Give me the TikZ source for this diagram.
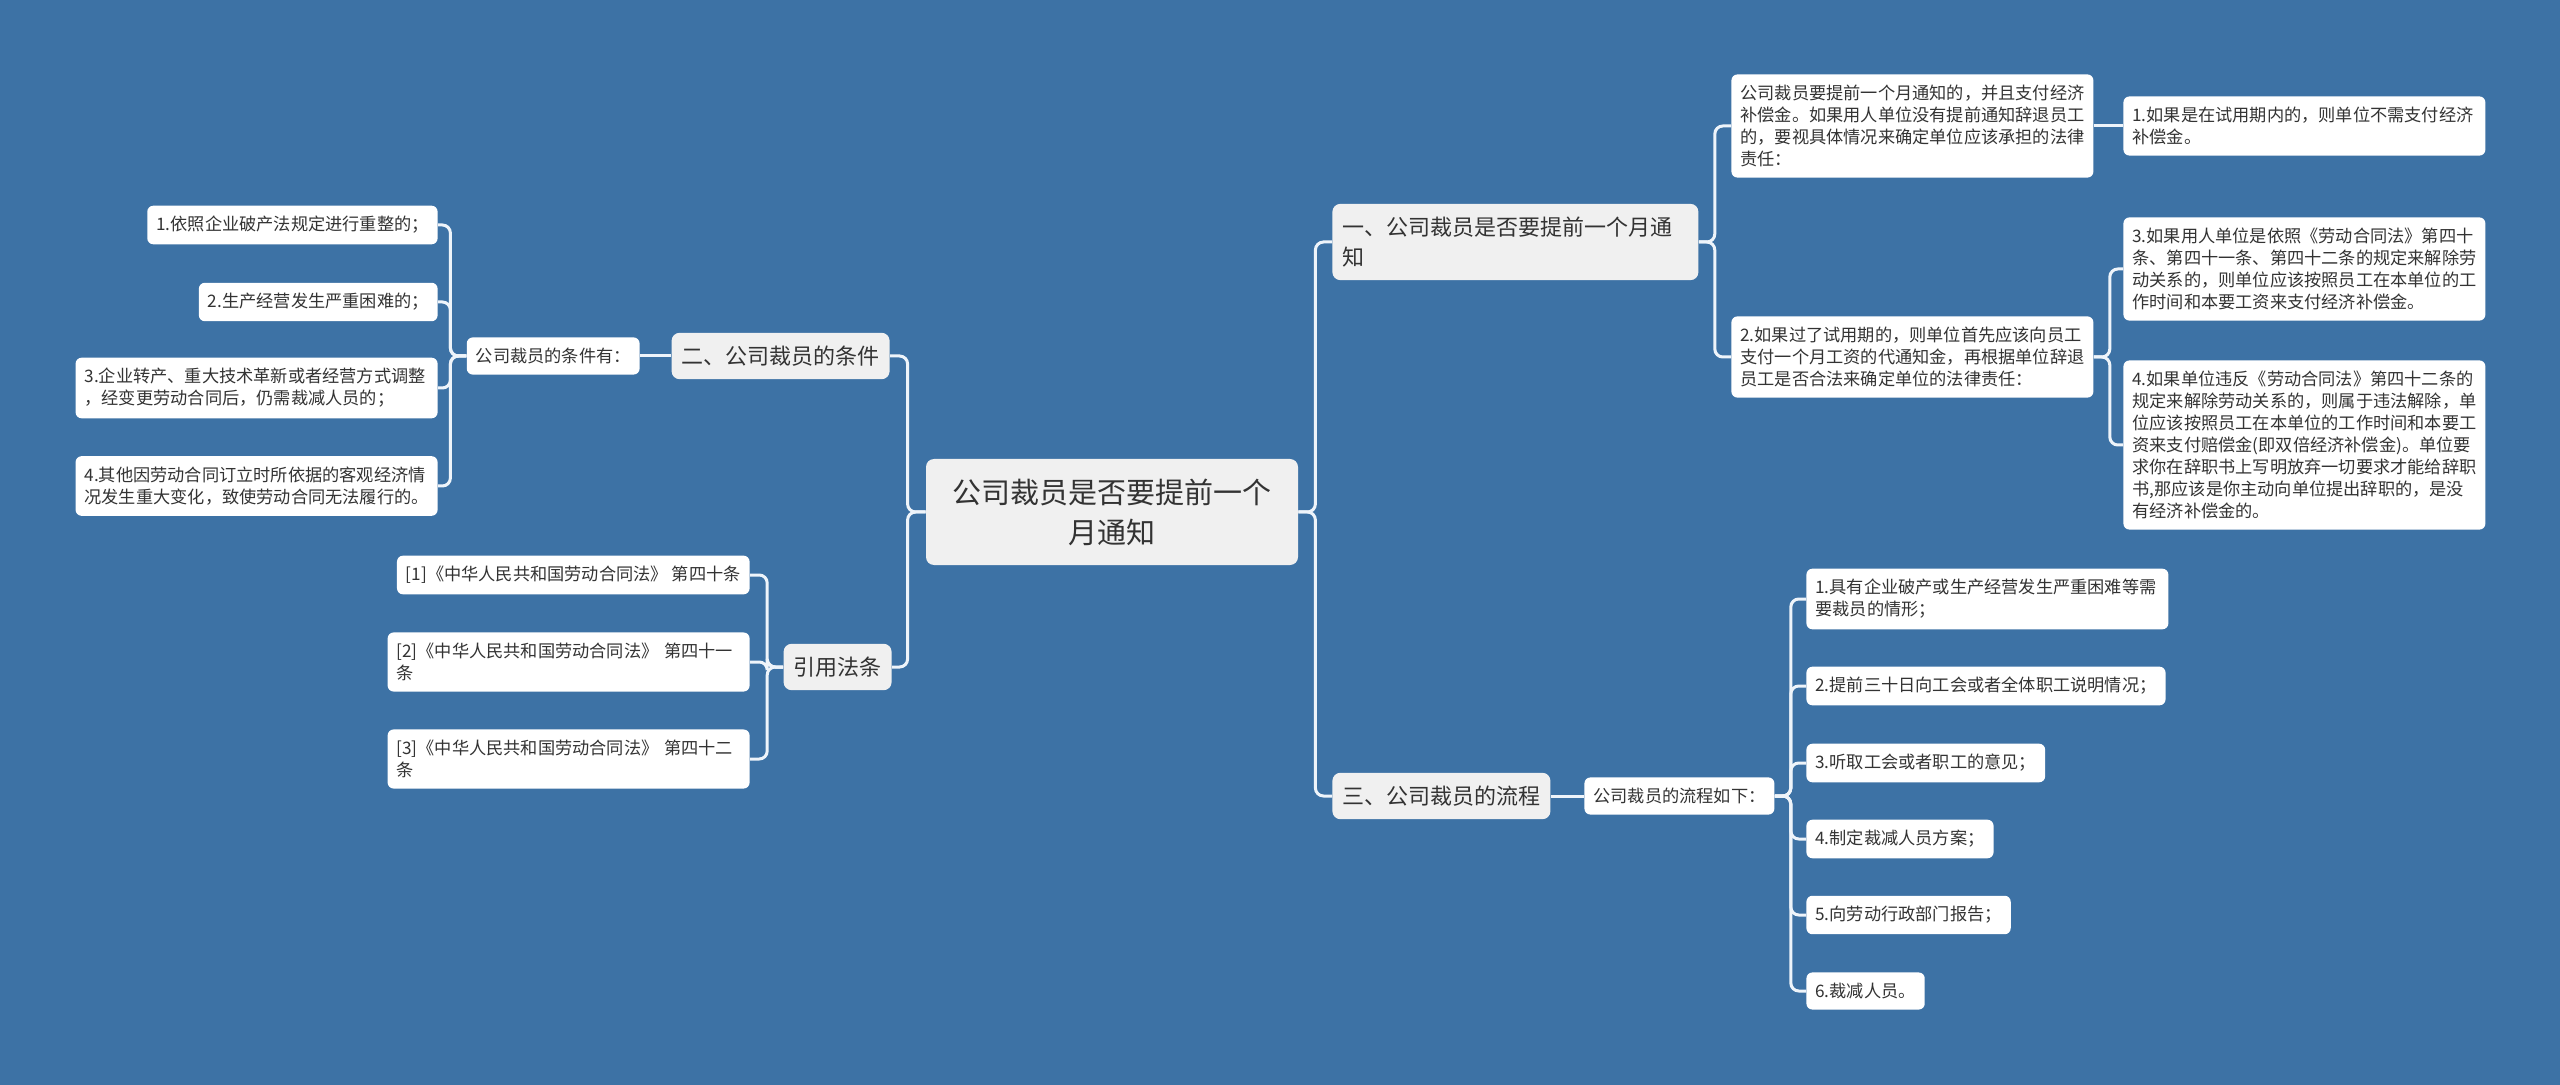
\documentclass[tikz,border=0pt]{standalone}
\usepackage{fontspec}
\setmainfont{Noto Sans CJK SC}
\usetikzlibrary{positioning}
\definecolor{cbg}{HTML}{3D72A5}
\definecolor{cline}{HTML}{EEF4FA}
\definecolor{cbox}{HTML}{F0F0F0}
\definecolor{ctext}{HTML}{333333}
\tikzset{
  every picture/.style={x=0.5pt, y=-0.5pt},
  root/.style={fill=cbox, rounded corners=4pt, align=center, text width=160pt, inner xsep=13pt, inner ysep=9pt, minimum height=53pt, text=ctext, font=\fontsize{14.5}{20}\selectfont},
  topic/.style={fill=cbox, rounded corners=4pt, align=left, inner xsep=5pt, inner ysep=6.5pt, text=ctext, font=\fontsize{11}{15}\selectfont},
  leaf/.style={fill=white, rounded corners=3pt, align=left, inner xsep=4.5pt, inner ysep=5.3pt, text=ctext, font=\fontsize{8.6}{11}\selectfont},
  wrap/.style={leaf, text width=172pt},
  link/.style={draw=cline, line width=1.5pt, rounded corners=4pt},
}

\begin{document}
\begin{tikzpicture}
  \fill[cbg] (0,0) rectangle (2560,1085);
  \node[root] (root) at (1112,512) {公司裁员是否要提前一个\\月通知};
  % right side
  \node[topic, anchor=west, text width=173pt] (t1) at (1332,242) {一、公司裁员是否要提前一个月通\\知};
  \node[wrap, anchor=west] (a) at (1731,126) {公司裁员要提前一个月通知的，并且支付经济\\补偿金。如果用人单位没有提前通知辞退员工\\的，要视具体情况来确定单位应该承担的法律\\责任：};
  \node[wrap, anchor=west] (a1) at (2123,126) {1.如果是在试用期内的，则单位不需支付经济\\补偿金。};
  \node[wrap, anchor=west] (b) at (1731,357) {2.如果过了试用期的，则单位首先应该向员工\\支付一个月工资的代通知金，再根据单位辞退\\员工是否合法来确定单位的法律责任：};
  \node[wrap, anchor=west] (b3) at (2123,269) {3.如果用人单位是依照《劳动合同法》第四十\\条、第四十一条、第四十二条的规定来解除劳\\动关系的，则单位应该按照员工在本单位的工\\作时间和本要工资来支付经济补偿金。};
  \node[wrap, anchor=west] (b4) at (2123,445) {4.如果单位违反《劳动合同法》第四十二条的\\规定来解除劳动关系的，则属于违法解除，单\\位应该按照员工在本单位的工作时间和本要工\\资来支付赔偿金(即双倍经济补偿金)。单位要\\求你在辞职书上写明放弃一切要求才能给辞职\\书,那应该是你主动向单位提出辞职的，是没\\有经济补偿金的。};
  \node[topic, anchor=west] (t3) at (1332,796) {三、公司裁员的流程};
  \node[leaf, anchor=west] (f) at (1584,796) {公司裁员的流程如下：};
  \node[wrap, anchor=west] (f1) at (1806,599) {1.具有企业破产或生产经营发生严重困难等需\\要裁员的情形；};
  \node[leaf, anchor=west] (f2) at (1806,686) {2.提前三十日向工会或者全体职工说明情况；};
  \node[leaf, anchor=west] (f3) at (1806,763) {3.听取工会或者职工的意见；};
  \node[leaf, anchor=west] (f4) at (1806,839) {4.制定裁减人员方案；};
  \node[leaf, anchor=west] (f5) at (1806,915) {5.向劳动行政部门报告；};
  \node[leaf, anchor=west] (f6) at (1806,991) {6.裁减人员。};
  % left side
  \node[topic, anchor=east] (t2) at (890,356) {二、公司裁员的条件};
  \node[leaf, anchor=east] (c) at (640,356) {公司裁员的条件有：};
  \node[leaf, anchor=east] (c1) at (438,225) {1.依照企业破产法规定进行重整的；};
  \node[leaf, anchor=east] (c2) at (438,302) {2.生产经营发生严重困难的；};
  \node[wrap, anchor=east] (c3) at (438,388) {3.企业转产、重大技术革新或者经营方式调整\\，经变更劳动合同后，仍需裁减人员的；};
  \node[wrap, anchor=east] (c4) at (438,486) {4.其他因劳动合同订立时所依据的客观经济情\\况发生重大变化，致使劳动合同无法履行的。};
  \node[topic, anchor=east] (t4) at (892,667) {引用法条};
  \node[leaf, anchor=east] (l1) at (750,575) {[1]《中华人民共和国劳动合同法》 第四十条};
  \node[wrap, anchor=east] (l2) at (750,662) {[2]《中华人民共和国劳动合同法》 第四十一\\条};
  \node[wrap, anchor=east] (l3) at (750,759) {[3]《中华人民共和国劳动合同法》 第四十二\\条};
  % connectors
  \draw[link] (root.east) -- ++(8.5pt,0) |- (t1.west);
  \draw[link] (root.east) -- ++(8.5pt,0) |- (t3.west);
  \draw[link] (root.west) -- ++(-9pt,0) |- (t2.east);
  \draw[link] (root.west) -- ++(-9pt,0) |- (t4.east);
  \draw[link] (t1.east) -- ++(8pt,0) |- (a.west);
  \draw[link] (t1.east) -- ++(8pt,0) |- (b.west);
  \draw[link] (a.east) -- (a1.west);
  \draw[link] (b.east) -- ++(8pt,0) |- (b3.west);
  \draw[link] (b.east) -- ++(8pt,0) |- (b4.west);
  \draw[link] (t3.east) -- (f.west);
  \draw[link] (f.east) -- ++(8pt,0) |- (f1.west);
  \draw[link] (f.east) -- ++(8pt,0) |- (f2.west);
  \draw[link] (f.east) -- ++(8pt,0) |- (f3.west);
  \draw[link] (f.east) -- ++(8pt,0) |- (f4.west);
  \draw[link] (f.east) -- ++(8pt,0) |- (f5.west);
  \draw[link] (f.east) -- ++(8pt,0) |- (f6.west);
  \draw[link] (t2.west) -- (c.east);
  \draw[link] (c.west) -- ++(-8pt,0) |- (c1.east);
  \draw[link] (c.west) -- ++(-8pt,0) |- (c2.east);
  \draw[link] (c.west) -- ++(-8pt,0) |- (c3.east);
  \draw[link] (c.west) -- ++(-8pt,0) |- (c4.east);
  \draw[link] (t4.west) -- ++(-8pt,0) |- (l1.east);
  \draw[link] (t4.west) -- ++(-8pt,0) |- (l2.east);
  \draw[link] (t4.west) -- ++(-8pt,0) |- (l3.east);
\end{tikzpicture}
\end{document}
